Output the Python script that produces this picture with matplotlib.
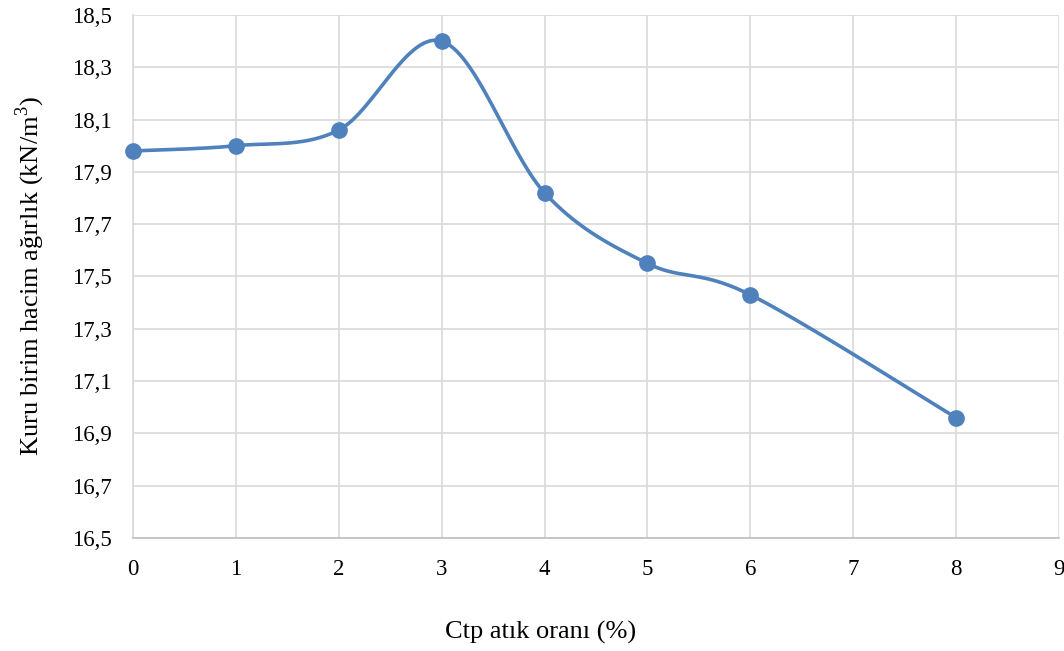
import numpy as np
import matplotlib
matplotlib.use("Agg")
import matplotlib.pyplot as plt

x_vals = [0, 1, 2, 3, 4, 5, 6, 8]
y_vals = [17.98, 18.00, 18.06, 18.40, 17.82, 17.55, 17.43, 16.96]
x_ticks = list(range(0, 10))
y_ticks = [16.5, 16.7, 16.9, 17.1, 17.3, 17.5, 17.7, 17.9, 18.1, 18.3, 18.5]
x_title = "Ctp atık oranı (%)"
y_title = "Kuru birim hacim ağırlık (kN/m$^3$)"

plt.rcParams['font.family'] = ['Liberation Serif', 'DejaVu Serif']
plt.rcParams['mathtext.fontset'] = 'custom'
plt.rcParams['mathtext.rm'] = 'Liberation Serif'

fig = plt.figure(figsize=(10.64, 6.51), dpi=100)
ax = fig.add_axes([0.125, 0.1736, 0.8703, 0.8034])

xmin, xmax = 0, 9
ymin, ymax = 16.5, 18.5
ax.set_xlim(xmin, xmax)
ax.set_ylim(ymin, ymax)

# Excel-style smoothed curve (Catmull-Rom Bezier in display-proportional space)
W, H = 926.0, 523.0
px = (np.array(x_vals) - xmin) / (xmax - xmin) * W
py = (np.array(y_vals) - ymin) / (ymax - ymin) * H
pts = np.column_stack([px, py])
curve = []
n = len(pts)
for i in range(n - 1):
    p0 = pts[i - 1] if i > 0 else pts[i]
    p1 = pts[i]
    p2 = pts[i + 1]
    p3 = pts[i + 2] if i + 2 < n else pts[i + 1]
    c1 = p1 + (p2 - p0) / 6.0
    c2 = p2 - (p3 - p1) / 6.0
    t = np.linspace(0, 1, 60)[:, None]
    seg = (1 - t) ** 3 * p1 + 3 * (1 - t) ** 2 * t * c1 + 3 * (1 - t) * t ** 2 * c2 + t ** 3 * p2
    curve.append(seg)
curve = np.vstack(curve)
cx = curve[:, 0] / W * (xmax - xmin) + xmin
cy = curve[:, 1] / H * (ymax - ymin) + ymin

color = '#4F81BD'
ax.plot(cx, cy, color=color, lw=2.6, zorder=3, clip_on=False)
ax.plot(x_vals, y_vals, 'o', color=color, ms=11, zorder=4, clip_on=False)

ax.set_xticks(x_ticks)
ax.set_yticks(y_ticks)
ax.set_yticklabels([f"{v:.1f}".replace('.', ',') for v in y_ticks])
ax.grid(True, color='#D9D9D9', lw=1.2, zorder=0)
ax.set_axisbelow(True)
for s in ['top', 'right']:
    ax.spines[s].set_visible(False)
ax.spines['left'].set_color('#D9D9D9')
ax.spines['bottom'].set_color('#BFBFBF')
ax.spines['left'].set_linewidth(1.2)
ax.spines['bottom'].set_linewidth(1.2)
ax.tick_params(length=0, labelsize=16.5, colors='black')
ax.tick_params(axis='x', pad=15)
ax.tick_params(axis='y', pad=15)

fig.text(541 / 1064, 1 - 632 / 651, x_title, ha='center', va='center', fontsize=19)
fig.text(30 / 1064, 1 - 276 / 651, y_title, ha='center', va='center', rotation=90, fontsize=19)

fig.savefig('out.png', dpi=100)
